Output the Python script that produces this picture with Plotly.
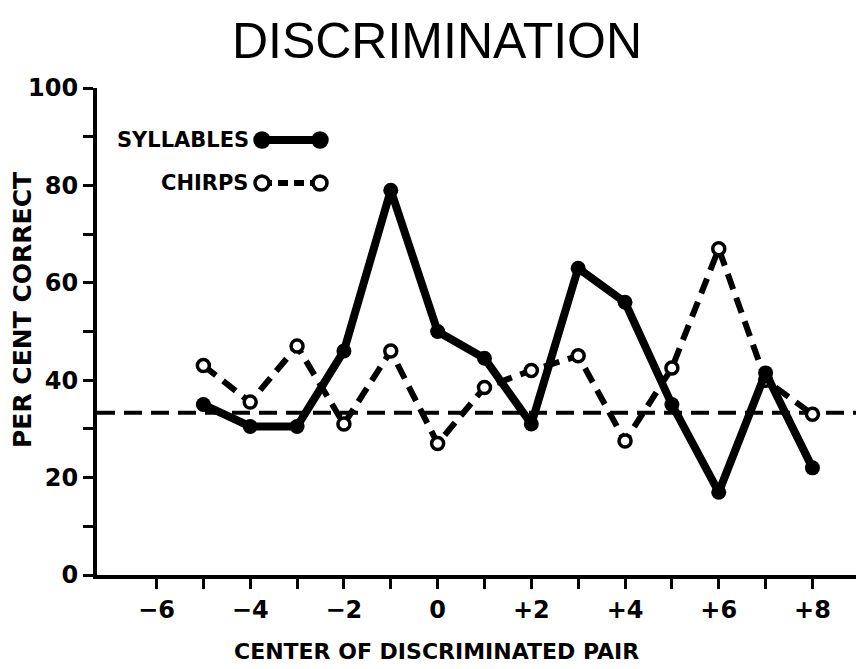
import plotly.graph_objects as go

# ---- data ----
CENTER = [-5, -4, -3, -2, -1, 0, 1, 2, 3, 4, 5, 6, 7, 8]
SYLLABLES = [35, 30.5, 30.5, 46, 79, 50, 44.5, 31, 63, 56, 35, 17, 41.5, 22]
CHIRPS = [43, 35.5, 47, 31, 46, 27, 38.5, 42, 45, 27.5, 42.5, 67, 40, 33]
CHANCE = 33.3
X_TICKS = [-6, -5, -4, -3, -2, -1, 0, 1, 2, 3, 4, 5, 6, 7, 8, 9]
X_TICKTEXT = ["\u22126", "", "\u22124", "", "\u22122", "", "0", "", "+2", "", "+4", "", "+6", "", "+8", ""]
Y_TICKS = [0, 10, 20, 30, 40, 50, 60, 70, 80, 90, 100]
Y_TICKTEXT = ["0", "", "20", "", "40", "", "60", "", "80", "", "100"]

BOLD = dict(family="DejaVu Sans", color="black", weight="bold")

# page has an 8px body margin; figure is sized to fit the remaining viewport
W, H = 856, 661
OFF = 8
L, T, B = 97 - OFF, 88 - OFF, 669 - 575
PW = W - L
PH = H - T - B

fig = go.Figure()

fig.add_trace(go.Scatter(
    x=CENTER, y=CHIRPS, mode="lines+markers", name="CHIRPS",
    line=dict(color="black", width=6, dash="16px,9px"),
    marker=dict(symbol="circle", size=12, color="white",
                line=dict(color="black", width=3.5)),
))
fig.add_trace(go.Scatter(
    x=CENTER, y=SYLLABLES, mode="lines+markers", name="SYLLABLES",
    line=dict(color="black", width=8),
    marker=dict(symbol="circle", size=15, color="black"),
))

# chance line
fig.add_shape(type="line", xref="paper", yref="y", x0=0, x1=1, y0=CHANCE, y1=CHANCE,
              line=dict(color="black", width=4, dash="18px,9px"), layer="below")

# ---- legend drawn as in the original (text left of sample) ----
def px_x(sx):
    return (sx - 97) / PW

def px_y(sy):
    return (575 - sy) / PH

lx0, lx1 = px_x(262), px_x(320)
for sy, name, filled in [(140, "SYLLABLES", True), (183, "CHIRPS", False)]:
    ypos = px_y(sy)
    fig.add_annotation(xref="paper", yref="paper", x=px_x(251), y=ypos, text=name,
                       showarrow=False, xanchor="right", yanchor="middle",
                       font=dict(size=21, **BOLD))
    fig.add_shape(type="line", xref="paper", yref="paper", x0=lx0, x1=lx1, y0=ypos, y1=ypos,
                  line=dict(color="black", width=8 if filled else 6,
                            dash="solid" if filled else "10px,6px"))
    for xx in (lx0, lx1):
        fig.add_shape(type="circle", xref="paper", yref="paper",
                      xsizemode="pixel", ysizemode="pixel",
                      xanchor=xx, yanchor=ypos,
                      x0=-7, x1=7, y0=-7, y1=7,
                      fillcolor="black" if filled else "white",
                      line=dict(color="black", width=3.5))

# axis titles
fig.add_annotation(xref="paper", yref="paper", x=px_x(436), y=px_y(651),
                   text="CENTER OF DISCRIMINATED PAIR", showarrow=False,
                   xanchor="center", yanchor="middle", font=dict(size=22, **BOLD))
fig.add_annotation(xref="paper", yref="paper", x=px_x(22), y=px_y(310),
                   text="PER CENT CORRECT", showarrow=False, textangle=-90,
                   xanchor="center", yanchor="middle", font=dict(size=25, **BOLD))

fig.update_layout(
    width=W, height=H,
    margin=dict(l=L, r=0, t=T, b=B, autoexpand=False),
    paper_bgcolor="white", plot_bgcolor="white",
    showlegend=False,
    title=dict(text="DISCRIMINATION", x=(437 - OFF) / W, xanchor="center",
               y=1 - (40 - OFF) / H, yanchor="middle",
               font=dict(family="Liberation Sans", size=50, color="black")),
    xaxis=dict(range=[-7.27, 9.1], tickvals=X_TICKS, ticktext=X_TICKTEXT,
               showgrid=False, zeroline=False, showline=True, linecolor="black", linewidth=4,
               ticks="outside", ticklen=10, tickwidth=3, tickcolor="black",
               tickfont=dict(size=24, **BOLD)),
    yaxis=dict(range=[0, 100], tickvals=Y_TICKS, ticktext=Y_TICKTEXT,
               showgrid=False, zeroline=False, showline=True, linecolor="black", linewidth=4,
               ticks="outside", ticklen=10, tickwidth=3, tickcolor="black",
               tickfont=dict(size=24, **BOLD)),
)

fig.write_html("out.html")
